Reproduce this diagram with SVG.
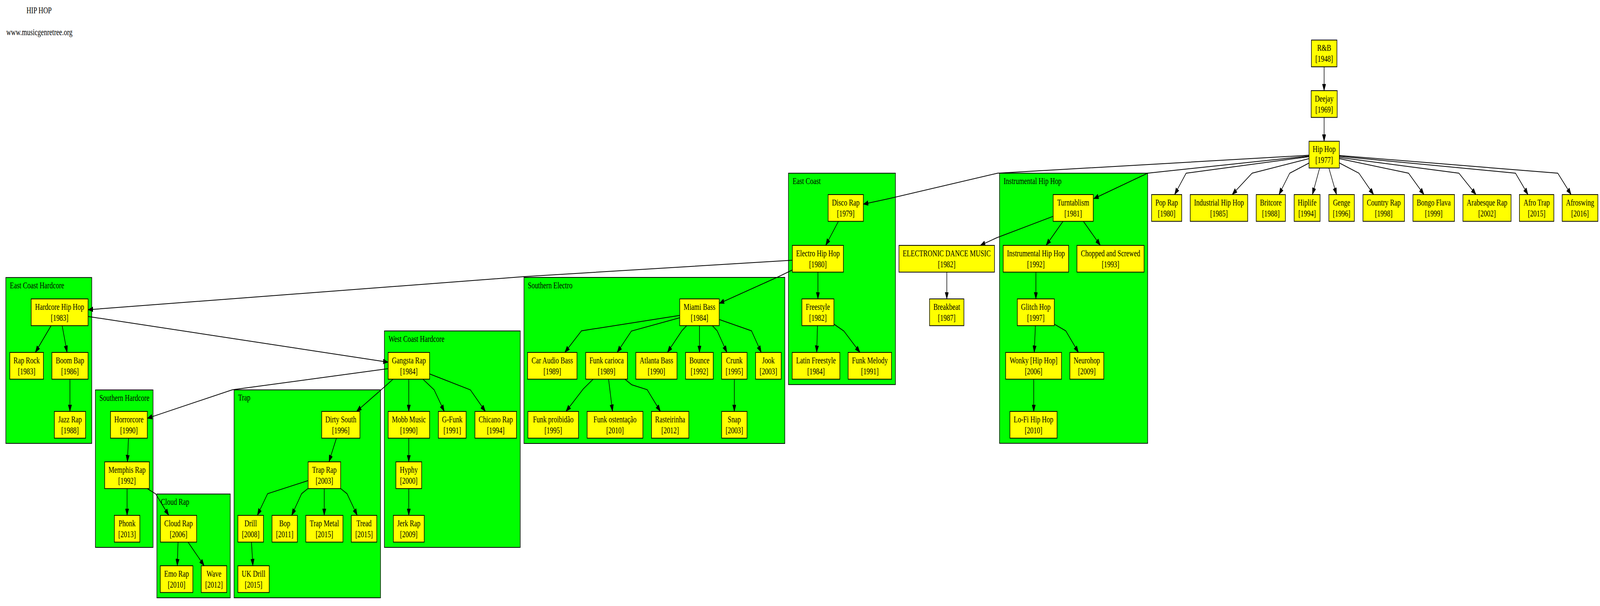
<svg xmlns="http://www.w3.org/2000/svg" width="5650" height="1551" viewBox="0 0 5650 1551" preserveAspectRatio="none" style="width:100vw;height:100vh;display:block">
<style>
text{font-family:"Liberation Serif","Times New Roman",serif;font-size:23.33px;fill:#000}
.n text{text-anchor:middle}
.n rect{fill:#ffff00;stroke:#000;stroke-width:2}
.cl rect{fill:#00ff00;stroke:#000;stroke-width:2}
#edges path{fill:none;stroke:#000;stroke-width:2;marker-end:url(#arr)}
</style>
<defs>
<marker id="arr" markerUnits="userSpaceOnUse" markerWidth="18" markerHeight="13" refX="17.5" refY="6.35" orient="auto" viewBox="0 0 18 13">
<path d="M0,0 L17.5,6.35 L0,12.7 Z" fill="#000" stroke="#000" stroke-width="1"/>
</marker>
</defs>
<rect width="5650" height="1551" fill="#fff"/>
<text x="93.3" y="34.3">HIP HOP</text>
<text x="22.3" y="90">www.musicgenretree.org</text>

<g id="clusters">
<g id="c_eastcoast" class="cl"><rect x="2784.3" y="443.3" width="377.7" height="541"/><text x="2799" y="471">East Coast</text></g>
<g id="c_instrumental" class="cl"><rect x="3529.7" y="443.3" width="523" height="691.3"/><text x="3544" y="471">Instrumental Hip Hop</text></g>
<g id="c_southernelectro" class="cl"><rect x="1850.3" y="710" width="921" height="425"/><text x="1864" y="738">Southern Electro</text></g>
<g id="c_ech" class="cl"><rect x="20.6" y="710.3" width="303.4" height="424.5"/><text x="35" y="738">East Coast Hardcore</text></g>
<g id="c_southernhc" class="cl"><rect x="337" y="998" width="203.4" height="403"/><text x="351" y="1026">Southern Hardcore</text></g>
<g id="c_cloud" class="cl"><rect x="554" y="1264.4" width="259" height="265.6"/><text x="568" y="1292">Cloud Rap</text></g>
<g id="c_trap" class="cl"><rect x="826.6" y="997.8" width="517" height="532.2"/><text x="841" y="1025">Trap</text></g>
<g id="c_wch" class="cl"><rect x="1357.5" y="847" width="479.5" height="554"/><text x="1372" y="875">West Coast Hardcore</text></g>
</g>

<g id="edges">
<path d="M4675.7,171 L4675.7,232"/>
<path d="M4675.7,300.5 L4675.7,361.5"/>
<path d="M4622.5,401 L4188.5,443.3 L4147.8,498"/>
<path d="M4622.5,406 L4421.5,443.3 L4351,498"/>
<path d="M4622.5,417.3 L4554.3,443.3 L4516.4,498"/>
<path d="M4660,430 L4634.5,498"/>
<path d="M4692.5,430 L4719.6,498"/>
<path d="M4729.5,417 L4798.8,443.3 L4850.5,498"/>
<path d="M4729.5,406 L4973.9,443.3 L5028.4,498"/>
<path d="M4729.5,403 L5151.8,443.3 L5212.1,498"/>
<path d="M4729.5,400 L5351.6,443.3 L5395.8,498"/>
<path d="M4729.5,398 L5500.9,443.3 L5548,498"/>
<path d="M4622.5,397.3 L3522.7,443.3 L3136.7,508.8 L3048.7,522.5"/>
<path d="M4622.5,399.3 L4052.4,443.3 L3862.2,508.5"/>
<path d="M3719,553.6 L3519.8,608.5 L3461.8,628"/>
<path d="M3753.7,566.5 L3694,628"/>
<path d="M3825.7,566.5 L3885.5,628"/>
<path d="M3343.4,696.5 L3343.4,765"/>
<path d="M3658,696.5 L3658,765"/>
<path d="M3656.2,833.5 L3652.2,902"/>
<path d="M3723,829.7 L3763.6,846.9 L3808.3,902"/>
<path d="M3650.4,970.5 L3650.4,1053"/>
<path d="M2960.7,566.5 L2915.7,628"/>
<path d="M2888.3,696.5 L2888.3,765"/>
<path d="M2886.7,833.5 L2884,902"/>
<path d="M2944.7,829.5 L2980,847.3 L3036.7,902"/>
<path d="M2798,666 L1850,708 L311,792.7"/>
<path d="M2798,691 L2748.8,708.3 L2540,776.5"/>
<path d="M2400.4,807.3 L2053.3,846.7 L1994.5,902"/>
<path d="M2400.4,813.3 L2229.6,847.3 L2179.3,902"/>
<path d="M2424.7,833.5 L2407.7,846.7 L2356.8,902"/>
<path d="M2470,833.5 L2470,902"/>
<path d="M2515.5,833.5 L2532.5,846.7 L2567,902"/>
<path d="M2539.8,817.7 L2653.7,846.7 L2688.2,902"/>
<path d="M2094.5,970.5 L2059.3,995.7 L1998.7,1053"/>
<path d="M2149,970.5 L2163,1053"/>
<path d="M2206.6,970.5 L2230.8,984.7 L2285.3,997.3 L2332,1053"/>
<path d="M2593,970.5 L2593,1053"/>
<path d="M180.5,833.5 L124.7,902"/>
<path d="M219.5,833.5 L236.9,902"/>
<path d="M247,970.5 L247,1053"/>
<path d="M311,810 L1370.6,927"/>
<path d="M1370.6,943.6 L821,997.5 L520.3,1070.6"/>
<path d="M1388,970.5 L1345.6,997.8 L1259,1053"/>
<path d="M1443.5,970.5 L1443.5,1053"/>
<path d="M1493.5,970.5 L1533,997.8 L1569,1053"/>
<path d="M1517,957 L1661,997.8 L1714,1053"/>
<path d="M1443.5,1121.5 L1443.5,1182"/>
<path d="M1443.5,1250.5 L1443.5,1319"/>
<path d="M1188,1121.5 L1161.6,1182"/>
<path d="M1088,1230 L945,1263.6 L908.7,1319"/>
<path d="M1088,1250 L1065,1263.6 L1030,1319"/>
<path d="M1145,1250.5 L1145,1319"/>
<path d="M1203,1250.5 L1225.4,1263.6 L1261.5,1319"/>
<path d="M888,1387.5 L893,1448"/>
<path d="M453.7,1121.5 L449.9,1182"/>
<path d="M448.8,1250.5 L448.8,1319"/>
<path d="M520.3,1250.5 L550,1264.4 L596,1319"/>
<path d="M628.7,1387.5 L626,1448"/>
<path d="M664,1387.5 L721,1448"/>
</g>

<g id="nodes">
<g id="rnb" class="n"><rect x="4631" y="102.5" width="90" height="68.5"/><text x="4676" y="130.5">R&amp;B</text><text x="4676" y="158.5">[1948]</text></g>
<g id="deejay" class="n"><rect x="4630" y="232" width="92" height="68.5"/><text x="4676" y="260">Deejay</text><text x="4676" y="288">[1969]</text></g>
<g id="hiphop" class="n"><rect x="4622.5" y="361.5" width="107" height="68.5"/><text x="4676" y="389.5">Hip Hop</text><text x="4676" y="417.5">[1977]</text></g>
<g id="poprap" class="n"><rect x="4066.5" y="498" width="106.5" height="68.5"/><text x="4119.75" y="526">Pop Rap</text><text x="4119.75" y="554">[1980]</text></g>
<g id="industrial" class="n"><rect x="4203" y="498" width="203" height="68.5"/><text x="4304.5" y="526">Industrial Hip Hop</text><text x="4304.5" y="554">[1985]</text></g>
<g id="britcore" class="n"><rect x="4436" y="498" width="103" height="68.5"/><text x="4487.5" y="526">Britcore</text><text x="4487.5" y="554">[1988]</text></g>
<g id="hiplife" class="n"><rect x="4570" y="498" width="91.5" height="68.5"/><text x="4615.75" y="526">Hiplife</text><text x="4615.75" y="554">[1994]</text></g>
<g id="genge" class="n"><rect x="4692.5" y="498" width="90" height="68.5"/><text x="4737.5" y="526">Genge</text><text x="4737.5" y="554">[1996]</text></g>
<g id="country" class="n"><rect x="4813" y="498" width="146.5" height="68.5"/><text x="4886.25" y="526">Country Rap</text><text x="4886.25" y="554">[1998]</text></g>
<g id="bongo" class="n"><rect x="4989.5" y="498" width="146.5" height="68.5"/><text x="5062.75" y="526">Bongo Flava</text><text x="5062.75" y="554">[1999]</text></g>
<g id="arabesque" class="n"><rect x="5166" y="498" width="170" height="68.5"/><text x="5251" y="526">Arabesque Rap</text><text x="5251" y="554">[2002]</text></g>
<g id="afrotrap" class="n"><rect x="5365.5" y="498" width="121.5" height="68.5"/><text x="5426.25" y="526">Afro Trap</text><text x="5426.25" y="554">[2015]</text></g>
<g id="afroswing" class="n"><rect x="5516.5" y="498" width="126" height="68.5"/><text x="5579.5" y="526">Afroswing</text><text x="5579.5" y="554">[2016]</text></g>

<g id="discorap" class="n"><rect x="2924.3" y="498" width="124.4" height="68.5"/><text x="2986.5" y="526">Disco Rap</text><text x="2986.5" y="554">[1979]</text></g>
<g id="electro" class="n"><rect x="2798" y="628" width="180.3" height="68.5"/><text x="2888.15" y="656">Electro Hip Hop</text><text x="2888.15" y="684">[1980]</text></g>
<g id="freestyle" class="n"><rect x="2831.7" y="765" width="113" height="68.5"/><text x="2888.2" y="793">Freestyle</text><text x="2888.2" y="821">[1982]</text></g>
<g id="latin" class="n"><rect x="2797.3" y="902" width="168.4" height="68.5"/><text x="2881.5" y="930">Latin Freestyle</text><text x="2881.5" y="958">[1984]</text></g>
<g id="funkmelody" class="n"><rect x="2995" y="902" width="153.3" height="68.5"/><text x="3071.65" y="930">Funk Melody</text><text x="3071.65" y="958">[1991]</text></g>

<g id="turntablism" class="n"><rect x="3719" y="498" width="141.5" height="68.5"/><text x="3789.75" y="526">Turntablism</text><text x="3789.75" y="554">[1981]</text></g>
<g id="instrhh" class="n"><rect x="3542.5" y="628" width="231" height="68.5"/><text x="3658" y="656">Instrumental Hip Hop</text><text x="3658" y="684">[1992]</text></g>
<g id="chopped" class="n"><rect x="3803" y="628" width="237" height="68.5"/><text x="3921.5" y="656">Chopped and Screwed</text><text x="3921.5" y="684">[1993]</text></g>
<g id="glitch" class="n"><rect x="3592.4" y="765" width="130.6" height="68.5"/><text x="3657.7" y="793">Glitch Hop</text><text x="3657.7" y="821">[1997]</text></g>
<g id="wonky" class="n"><rect x="3551.2" y="902" width="197.3" height="68.5"/><text x="3649.85" y="930">Wonky [Hip Hop]</text><text x="3649.85" y="958">[2006]</text></g>
<g id="neurohop" class="n"><rect x="3778" y="902" width="119.7" height="68.5"/><text x="3837.85" y="930">Neurohop</text><text x="3837.85" y="958">[2009]</text></g>
<g id="lofi" class="n"><rect x="3566.3" y="1053" width="166.5" height="68.5"/><text x="3649.55" y="1081">Lo-Fi Hip Hop</text><text x="3649.55" y="1109">[2010]</text></g>
<g id="edm" class="n"><rect x="3174.5" y="628" width="337.2" height="68.5"/><text x="3343.1" y="656">ELECTRONIC DANCE MUSIC</text><text x="3343.1" y="684">[1982]</text></g>
<g id="breakbeat" class="n"><rect x="3282.5" y="765" width="121.3" height="68.5"/><text x="3343.15" y="793">Breakbeat</text><text x="3343.15" y="821">[1987]</text></g>

<g id="miami" class="n"><rect x="2400.4" y="765" width="139.4" height="68.5"/><text x="2470.1" y="793">Miami Bass</text><text x="2470.1" y="821">[1984]</text></g>
<g id="caraudio" class="n"><rect x="1863" y="902" width="174.5" height="68.5"/><text x="1950.25" y="930">Car Audio Bass</text><text x="1950.25" y="958">[1989]</text></g>
<g id="funkcarioca" class="n"><rect x="2068.4" y="902" width="147.2" height="68.5"/><text x="2142" y="930">Funk carioca</text><text x="2142" y="958">[1989]</text></g>
<g id="atlanta" class="n"><rect x="2245.3" y="902" width="145.4" height="68.5"/><text x="2318" y="930">Atlanta Bass</text><text x="2318" y="958">[1990]</text></g>
<g id="bounce" class="n"><rect x="2421" y="902" width="97.6" height="68.5"/><text x="2469.8" y="930">Bounce</text><text x="2469.8" y="958">[1992]</text></g>
<g id="crunk" class="n"><rect x="2548.3" y="902" width="89.7" height="68.5"/><text x="2593.15" y="930">Crunk</text><text x="2593.15" y="958">[1995]</text></g>
<g id="jook" class="n"><rect x="2668.2" y="902" width="90.3" height="68.5"/><text x="2713.35" y="930">Jook</text><text x="2713.35" y="958">[2003]</text></g>
<g id="proibidao" class="n"><rect x="1864.2" y="1053" width="178.8" height="68.5"/><text x="1953.6" y="1081">Funk proibidão</text><text x="1953.6" y="1109">[1995]</text></g>
<g id="ostentacao" class="n"><rect x="2073.3" y="1053" width="196.9" height="68.5"/><text x="2171.75" y="1081">Funk ostentação</text><text x="2171.75" y="1109">[2010]</text></g>
<g id="rasteirinha" class="n"><rect x="2300.5" y="1053" width="132" height="68.5"/><text x="2366.5" y="1081">Rasteirinha</text><text x="2366.5" y="1109">[2012]</text></g>
<g id="snap" class="n"><rect x="2548.3" y="1053" width="89.7" height="68.5"/><text x="2593.15" y="1081">Snap</text><text x="2593.15" y="1109">[2003]</text></g>

<g id="hardcore" class="n"><rect x="110" y="765" width="201" height="68.5"/><text x="210.5" y="793">Hardcore Hip Hop</text><text x="210.5" y="821">[1983]</text></g>
<g id="raprock" class="n"><rect x="34.7" y="902" width="118.7" height="68.5"/><text x="94.05" y="930">Rap Rock</text><text x="94.05" y="958">[1983]</text></g>
<g id="boombap" class="n"><rect x="183.2" y="902" width="127.8" height="68.5"/><text x="247.1" y="930">Boom Bap</text><text x="247.1" y="958">[1986]</text></g>
<g id="jazzrap" class="n"><rect x="191.9" y="1053" width="110.5" height="68.5"/><text x="247.15" y="1081">Jazz Rap</text><text x="247.15" y="1109">[1988]</text></g>

<g id="horrorcore" class="n"><rect x="390.2" y="1053" width="130" height="68.5"/><text x="455.2" y="1081">Horrorcore</text><text x="455.2" y="1109">[1990]</text></g>
<g id="memphis" class="n"><rect x="369.6" y="1182" width="157.8" height="68.5"/><text x="448.5" y="1210">Memphis Rap</text><text x="448.5" y="1238">[1992]</text></g>
<g id="phonk" class="n"><rect x="403.8" y="1319" width="90" height="68.5"/><text x="448.8" y="1347">Phonk</text><text x="448.8" y="1375">[2013]</text></g>
<g id="cloudrap" class="n"><rect x="566.4" y="1319" width="128" height="68.5"/><text x="630.4" y="1347">Cloud Rap</text><text x="630.4" y="1375">[2006]</text></g>
<g id="emorap" class="n"><rect x="566" y="1448" width="115" height="68.5"/><text x="623.5" y="1476">Emo Rap</text><text x="623.5" y="1504">[2010]</text></g>
<g id="wave" class="n"><rect x="710.6" y="1448" width="90" height="68.5"/><text x="755.6" y="1476">Wave</text><text x="755.6" y="1504">[2012]</text></g>

<g id="dirtysouth" class="n"><rect x="1136" y="1053" width="135" height="68.5"/><text x="1203.5" y="1081">Dirty South</text><text x="1203.5" y="1109">[1996]</text></g>
<g id="traprap" class="n"><rect x="1088" y="1182" width="115" height="68.5"/><text x="1145.5" y="1210">Trap Rap</text><text x="1145.5" y="1238">[2003]</text></g>
<g id="drill" class="n"><rect x="840" y="1319" width="90.4" height="68.5"/><text x="885.2" y="1347">Drill</text><text x="885.2" y="1375">[2008]</text></g>
<g id="bop" class="n"><rect x="960.6" y="1319" width="89.4" height="68.5"/><text x="1005.3" y="1347">Bop</text><text x="1005.3" y="1375">[2011]</text></g>
<g id="trapmetal" class="n"><rect x="1080" y="1319" width="131" height="68.5"/><text x="1145.5" y="1347">Trap Metal</text><text x="1145.5" y="1375">[2015]</text></g>
<g id="tread" class="n"><rect x="1240.5" y="1319" width="90" height="68.5"/><text x="1285.5" y="1347">Tread</text><text x="1285.5" y="1375">[2015]</text></g>
<g id="ukdrill" class="n"><rect x="840" y="1448" width="110.7" height="68.5"/><text x="895.35" y="1476">UK Drill</text><text x="895.35" y="1504">[2015]</text></g>

<g id="gangsta" class="n"><rect x="1370.6" y="902" width="146.4" height="68.5"/><text x="1443.8" y="930">Gangsta Rap</text><text x="1443.8" y="958">[1984]</text></g>
<g id="mobb" class="n"><rect x="1370.6" y="1053" width="146.4" height="68.5"/><text x="1443.8" y="1081">Mobb Music</text><text x="1443.8" y="1109">[1990]</text></g>
<g id="gfunk" class="n"><rect x="1548" y="1053" width="98" height="68.5"/><text x="1597" y="1081">G-Funk</text><text x="1597" y="1109">[1991]</text></g>
<g id="chicano" class="n"><rect x="1677" y="1053" width="147" height="68.5"/><text x="1750.5" y="1081">Chicano Rap</text><text x="1750.5" y="1109">[1994]</text></g>
<g id="hyphy" class="n"><rect x="1398" y="1182" width="91" height="68.5"/><text x="1443.5" y="1210">Hyphy</text><text x="1443.5" y="1238">[2000]</text></g>
<g id="jerkrap" class="n"><rect x="1389" y="1319" width="109" height="68.5"/><text x="1443.5" y="1347">Jerk Rap</text><text x="1443.5" y="1375">[2009]</text></g>
</g>
</svg>
